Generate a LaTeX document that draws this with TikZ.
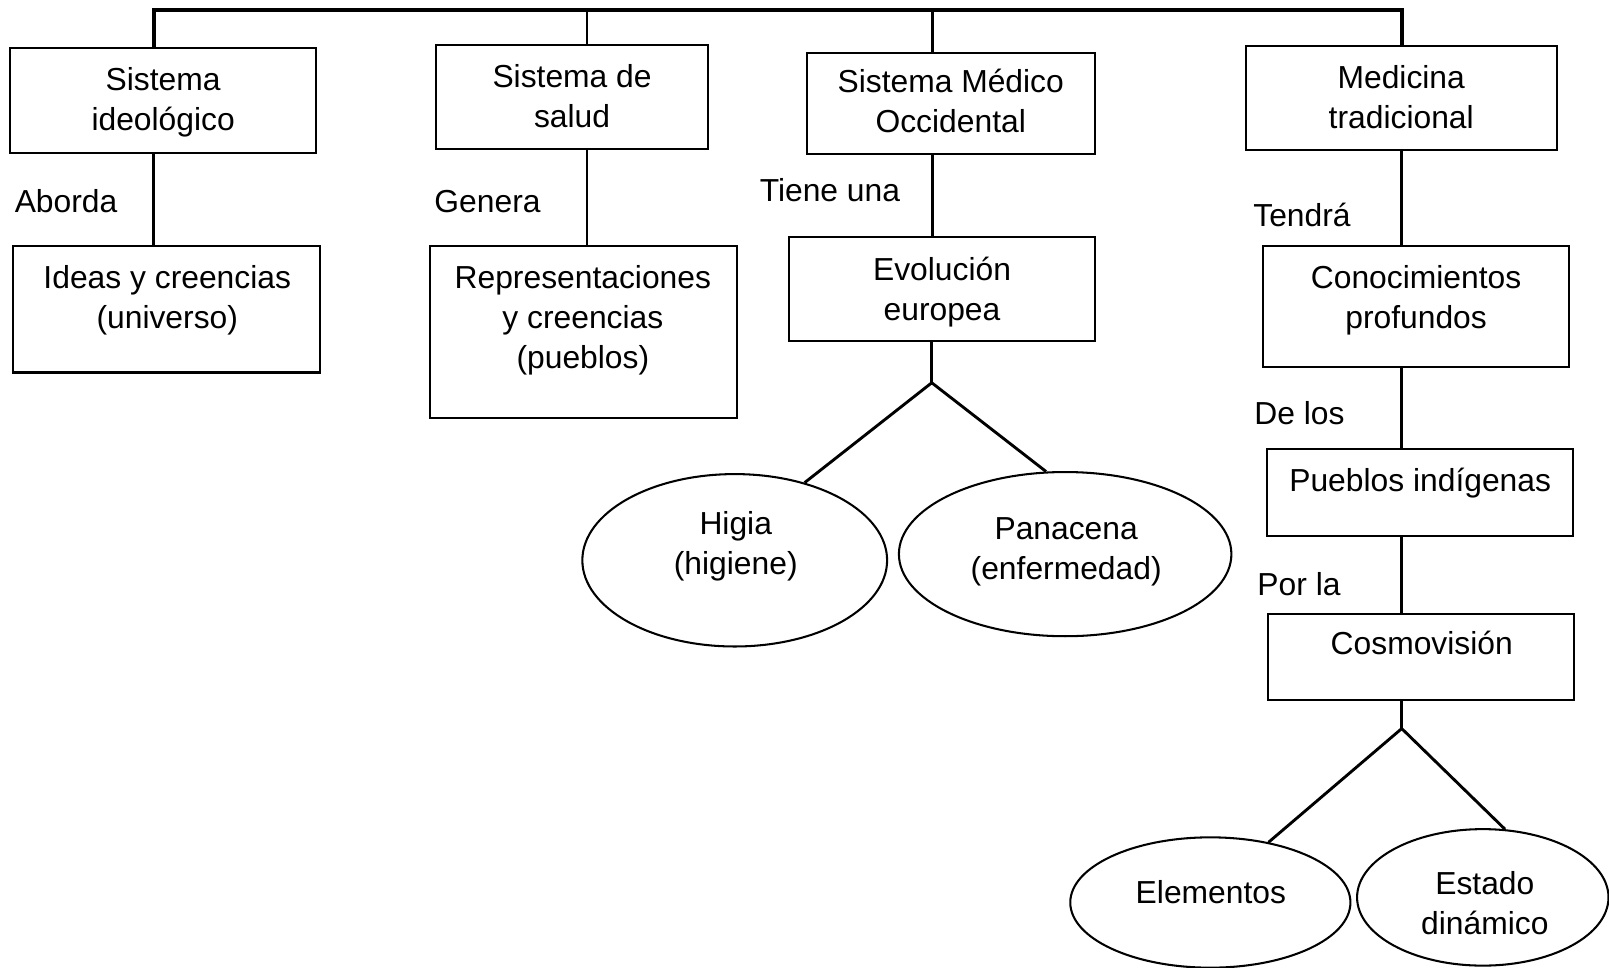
\documentclass[tikz,border=0pt]{standalone}
\usepackage{fontspec}
\setmainfont{Liberation Sans}
\usetikzlibrary{shapes.geometric}
\begin{document}
\begin{tikzpicture}[x=0.5pt,y=-0.5pt,
  box/.style={draw, line width=1pt, rectangle, inner sep=0pt},
  oval/.style={draw, line width=1pt, ellipse, inner sep=0pt},
  txt/.style={align=center, inner sep=0pt, font=\fontsize{15.5}{19.5}\selectfont, anchor=base},
  lbl/.style={inner sep=0pt, font=\fontsize{15.5}{19.5}\selectfont, anchor=base west},
  conn/.style={line width=1.4pt},
  topconn/.style={line width=1.8pt}]
\useasboundingbox (0,0) rectangle (1568,943);

% boxes
\node[box, minimum width=149pt, minimum height=51pt] (sid) at (159,98) {};
\node[box, minimum width=132.5pt, minimum height=50.5pt] (ssal) at (557.5,94.5) {};
\node[box, minimum width=140.5pt, minimum height=49pt] (smo) at (926.5,101) {};
\node[box, minimum width=151.5pt, minimum height=50.5pt] (medt) at (1365.5,95.5) {};
\node[box, minimum width=149.5pt, minimum height=61.5pt] (ideas) at (162.5,301.5) {};
\node[box, minimum width=149.5pt, minimum height=83.5pt] (repr) at (568.5,323.5) {};
\node[box, minimum width=149pt, minimum height=50.5pt] (evol) at (918,281.5) {};
\node[box, minimum width=149pt, minimum height=59pt] (conoc) at (1380,299) {};
\node[box, minimum width=149pt, minimum height=42pt] (pueb) at (1384,480) {};
\node[box, minimum width=149pt, minimum height=42pt] (cosmo) at (1385,640) {};

% ellipses
\node[oval, minimum width=148.5pt, minimum height=84pt] (higia) at (716,546) {};
\node[oval, minimum width=162pt, minimum height=80pt] (panac) at (1038,540) {};
\node[oval, minimum width=136.5pt, minimum height=63.5pt] (elem) at (1179.5,879.5) {};
\node[oval, minimum width=122.5pt, minimum height=66.5pt] (estado) at (1445,874.5) {};

% texts (anchored at the baseline of their last line)
\node[txt] (tsid) at (159,127.5) {Sistema\\ideológico};
\node[txt] (tssal) at (557.5,124) {Sistema de\\salud};
\node[txt] (tsmo) at (926.5,129) {Sistema Médico\\Occidental};
\node[txt] (tmedt) at (1365.5,125) {Medicina\\tradicional};
\node[txt] (tideas) at (163,320) {Ideas y creencias\\(universo)};
\node[txt] (trepr) at (568,359) {Representaciones\\y creencias\\(pueblos)};
\node[txt] (tevol) at (918,312) {Evolución\\europea};
\node[txt] (tconoc) at (1380,320) {Conocimientos\\profundos};
\node[txt] (tpueb) at (1384,479) {Pueblos indígenas};
\node[txt] (tcosmo) at (1385.5,638) {Cosmovisión};
\node[txt] (thigia) at (717,560) {Higia\\(higiene)};
\node[txt] (tpanac) at (1039,565) {Panacena\\(enfermedad)};
\node[txt] (telem) at (1180,880) {Elementos};
\node[txt] (testado) at (1447,911) {Estado\\dinámico};

% labels
\node[lbl] (laborda) at (14,207) {Aborda};
\node[lbl] (lgenera) at (423,207) {Genera};
\node[lbl] (ltiene) at (740,196) {Tiene una};
\node[lbl] (ltendra) at (1221,221) {Tendrá};
\node[lbl] (ldelos) at (1222,414) {De los};
\node[lbl] (lporla) at (1225,580) {Por la};

% connectors
\coordinate (tl) at (150,10);
\coordinate (tr) at (1366,10);
\coordinate (c2) at (572,10);
\coordinate (c3) at (909,10);
\draw[topconn] (sid.north -| tl) -- (tl) -- (tr) -- (medt.north -| tr);
\draw[conn] (c2) -- (ssal.north -| c2);
\draw[conn] (c3) -- (smo.north -| c3);
\draw[conn] (sid.south -| tl) -- (ideas.north -| tl);
\draw[conn] (ssal.south -| c2) -- (repr.north -| c2);
\draw[conn] (smo.south -| c3) -- (evol.north -| c3);
\draw[conn] (medt.south -| tr) -- (conoc.north -| tr);
\draw[conn] (conoc.south -| tr) -- (pueb.north -| tr);
\draw[conn] (pueb.south -| tr) -- (cosmo.north -| tr);

\coordinate (j1) at (908,373);
\draw[conn] (evol.south -| j1) -- (j1);
\draw[conn] (higia.48) -- (j1) -- (panac.103);
\coordinate (j2) at (1366,710);
\draw[conn] (cosmo.south -| j2) -- (j2);
\draw[conn] (elem.46) -- (j2) -- (estado.72);
\end{tikzpicture}
\end{document}
